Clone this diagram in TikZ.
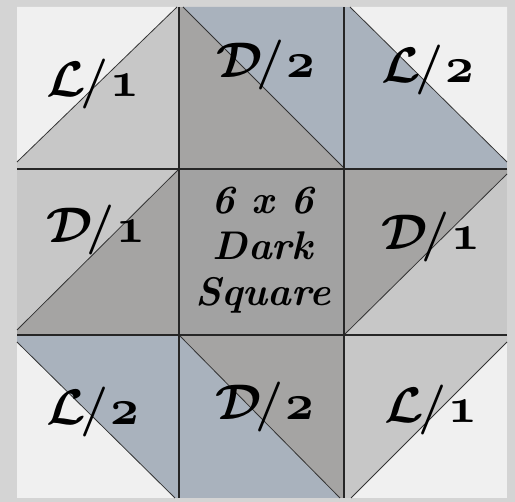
\RequirePackage{fix-cm}
\documentclass[tikz,border=0pt]{standalone}
\usepackage{bm}
\definecolor{frame}{HTML}{D4D4D4}
\definecolor{vlight}{HTML}{F0F0F0}
\definecolor{lgray}{HTML}{C7C7C7}
\definecolor{dgray}{HTML}{A5A4A3}
\definecolor{cgray}{HTML}{A2A2A2}
\definecolor{bgray}{HTML}{A9B2BD}
\tikzset{
  lab/.style={anchor=base, inner sep=0pt, font=\fontsize{50}{54}\selectfont\bfseries\boldmath},
  ctext/.style={anchor=base, inner sep=0pt, font=\fontsize{40}{44}\selectfont\bfseries\itshape},
  grid/.style={line width=1.8pt, black!85},
  diag/.style={line width=0.8pt, black!80}
}
\newcommand{\plab}[2]{$\mathcal{#1}$\kern-0.12em/\kern0.04em$\mathnormal{#2}$}
\begin{document}
\begin{tikzpicture}[x=1pt,y=-1pt]
\useasboundingbox (0,0) rectangle (515,502);
\fill[frame] (0,0) rectangle (515,502);
% cell backgrounds
\fill[lgray] (17,7) rectangle (179,169);
\fill[dgray] (179,7) rectangle (344,169);
\fill[bgray] (344,7) rectangle (507,169);
\fill[dgray] (17,169) rectangle (179,335);
\fill[cgray] (179,169) rectangle (344,335);
\fill[lgray] (344,169) rectangle (507,335);
\fill[vlight] (17,335) rectangle (179,498);
\fill[bgray] (179,335) rectangle (344,498);
\fill[vlight] (344,335) rectangle (507,498);
% triangles
\fill[vlight] (17,7) -- (177,7) -- (17,162) -- cycle;
\fill[bgray] (183,7) -- (344,7) -- (344,168) -- cycle;
\fill[vlight] (350,7) -- (507,7) -- (507,162) -- cycle;
\fill[lgray] (17,169) -- (179,169) -- (17,330) -- cycle;
\fill[dgray] (344,169) -- (507,169) -- (507,174) -- (344,335) -- cycle;
\fill[bgray] (17,335) -- (179,335) -- (179,498) -- (175,498) -- (17,342) -- cycle;
\fill[dgray] (179,335) -- (344,335) -- (344,498) -- (340,498) -- cycle;
\fill[lgray] (344,335) -- (507,335) -- (507,342) -- (351,498) -- (344,498) -- cycle;
% diagonals
\draw[diag] (17,162) -- (177,7);
\draw[diag] (183,7) -- (344,168);
\draw[diag] (350,7) -- (507,162);
\draw[diag] (179,169) -- (17,330);
\draw[diag] (507,174) -- (344,335);
\draw[diag] (17,342) -- (175,498);
\draw[diag] (179,335) -- (340,498);
\draw[diag] (507,342) -- (351,498);
% grid lines
\draw[grid] (179,7) -- (179,498);
\draw[grid] (344,7) -- (344,498);
\draw[grid] (17,169) -- (507,169);
\draw[grid] (17,335) -- (507,335);
% labels
\node[lab] (tl) at (93,97) {\plab{L}{1}};
\node[lab] (tm) at (266,78) {\plab{D}{2}};
\node[lab] (tr) at (428,83) {\plab{L}{2}};
\node[lab] (ml) at (96,243) {\plab{D}{1}};
\node[lab] (mr) at (431,250) {\plab{D}{1}};
\node[lab] (bl) at (93,425) {\plab{L}{2}};
\node[lab] (bm) at (265,420) {\plab{D}{2}};
\node[lab] (br) at (431,423) {\plab{L}{1}};
\node[ctext] (c1) at (263,214) {6 x 6};
\node[ctext] (c2) at (263,260) {Dark};
\node[ctext] (c3) at (263,306) {Square};
\end{tikzpicture}
\end{document}
